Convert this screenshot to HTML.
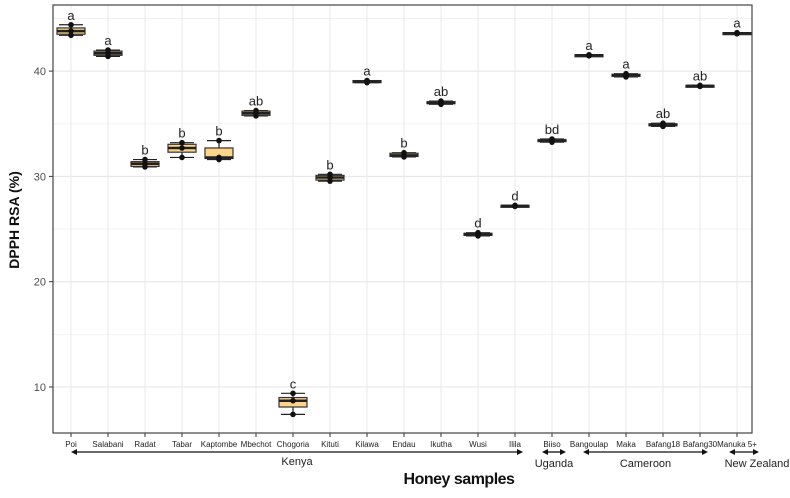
<!DOCTYPE html>
<html><head><meta charset="utf-8"><style>
body{margin:0;background:#fff;font-family:"Liberation Sans",sans-serif}
svg text{font-family:"Liberation Sans",sans-serif}
</style></head><body>
<svg id="chart" width="790" height="493"></svg>
<script>
const categories=["Poi","Salabani","Radat","Tabar","Kaptombe","Mbechot","Chogoria","Kituti","Kilawa","Endau","Ikutha","Wusi","Ilila","Biiso","Bangoulap","Maka","Bafang18","Bafang30","Manuka 5+"];
const medians=[43.8,41.7,31.2,32.7,31.8,36.0,8.7,29.9,39.0,32.0,37.0,24.5,27.2,33.4,41.5,39.6,34.9,38.6,43.6];
const q1s=[43.5,41.5,30.95,32.3,31.7,35.8,8.1,29.65,38.9,31.9,36.9,24.4,27.15,33.3,41.45,39.5,34.8,38.55,43.55];
const q3s=[44.1,41.9,31.4,33.05,32.7,36.2,9.0,30.1,39.1,32.2,37.1,24.6,27.25,33.5,41.55,39.7,35.0,38.65,43.65];
const mins=[43.4,41.4,30.9,31.8,31.6,35.75,7.4,29.55,38.9,31.85,36.85,24.35,27.15,33.25,41.45,39.45,34.75,38.55,43.55];
const maxs=[44.4,42.0,31.6,33.2,33.4,36.25,9.4,30.2,39.1,32.25,37.15,24.65,27.25,33.55,41.55,39.75,35.05,38.65,43.65];
const letters=["a","a","b","b","b","ab","c","b","a","b","ab","d","d","bd","a","a","ab","ab","a"];
const yTicks=[10,20,30,40];
const yMinor=[15,25,35,45];
const groups=["Kenya","Uganda","Cameroon","New Zealand"];
const groupStart=[0,13,14,18];
const groupEnd=[12,13,17,18];

const NS="http://www.w3.org/2000/svg";
const svg=document.getElementById("chart");
const L=53,R=752,T=5,B=433;
const x=i=>71+i*37;
const y=v=>387-(v-10)*10.53;
function mk(t,a,p){const e=document.createElementNS(NS,t);for(const k in a)e.setAttribute(k,a[k]);(p||svg).appendChild(e);return e;}
yMinor.forEach(v=>{const l=mk("line",{x1:L,x2:R,y1:y(v),y2:y(v),stroke:"#f0f0f0","stroke-width":0.8});

});
yTicks.forEach(v=>{const l=mk("line",{x1:L,x2:R,y1:y(v),y2:y(v),stroke:"#e4e4e4","stroke-width":1});


const tk=mk("line",{x1:L-4,x2:L,y1:y(v),y2:y(v),stroke:"#333"});


const t=mk("text",{x:L-7,y:y(v)+4,"text-anchor":"end","font-size":11,fill:"#4d4d4d"});t.textContent=v;

});
categories.forEach((c,i)=>{const l=mk("line",{x1:x(i),x2:x(i),y1:T,y2:B,stroke:"#e8e8e8","stroke-width":1});


const tk=mk("line",{x1:x(i),x2:x(i),y1:B,y2:B+4,stroke:"#333"});


const t=mk("text",{x:x(i),y:B+14,"text-anchor":"middle","font-size":8,fill:"#222"});t.textContent=c;

});
const fr=mk("rect",{x:L,y:T,width:R-L,height:B-T,fill:"none",stroke:"#444","stroke-width":1.2});


categories.forEach((c,i)=>{const g=mk("g",{});


const cx=x(i),w=28;
mk("line",{x1:cx-12,x2:cx+12,y1:y(maxs[i]),y2:y(maxs[i]),stroke:"#222","stroke-width":1.2},g);
mk("line",{x1:cx-12,x2:cx+12,y1:y(mins[i]),y2:y(mins[i]),stroke:"#222","stroke-width":1.2},g);
mk("line",{x1:cx,x2:cx,y1:y(maxs[i]),y2:y(mins[i]),stroke:"#222","stroke-width":1.2},g);
mk("rect",{x:cx-w/2,y:y(q3s[i]),width:w,height:Math.max(2,y(q1s[i])-y(q3s[i])),fill:"#fdd48a",stroke:"#333","stroke-width":1.2},g);
mk("line",{x1:cx-w/2,x2:cx+w/2,y1:y(medians[i]),y2:y(medians[i]),stroke:"#222","stroke-width":2.5},g);
[maxs[i],medians[i],mins[i]].forEach(v=>mk("circle",{cx:cx,cy:y(v),r:2.8,fill:"#111"},g));
const t=mk("text",{x:cx,y:y(maxs[i])-5,"text-anchor":"middle","font-size":13,fill:"#222"});t.textContent=letters[i];

});
const ay=452;
groups.forEach((gname,k)=>{const x1=x(groupStart[k])-(k==0?0:(k==1?10:(k==3?8:6))),x2=x(groupEnd[k])+(k==0?8:(k==2?8:(k==1?14:22)));
const l=mk("line",{x1:x1+4,x2:x2-4,y1:ay,y2:ay,stroke:"#111","stroke-width":1.3});


mk("path",{d:`M${x1},${ay} l6,-3 v6 z M${x2},${ay} l-6,-3 v6 z`,fill:"#111"});
const cx=k==3?757:(x1+x2)/2;
const t=mk("text",{x:cx,y:k==0?465:467,"text-anchor":"middle","font-size":11,fill:"#222"});t.textContent=gname;

});
const xt=mk("text",{x:459,y:484,"text-anchor":"middle","font-size":16,"font-weight":"bold",fill:"#111","letter-spacing":"-0.5"});xt.textContent="Honey samples";


const yt=mk("text",{x:0,y:0,"text-anchor":"middle","font-size":14,"font-weight":"bold",fill:"#111",transform:"translate(19,220) rotate(-90)"});yt.textContent="DPPH RSA (%)";


</script>
</body></html>
